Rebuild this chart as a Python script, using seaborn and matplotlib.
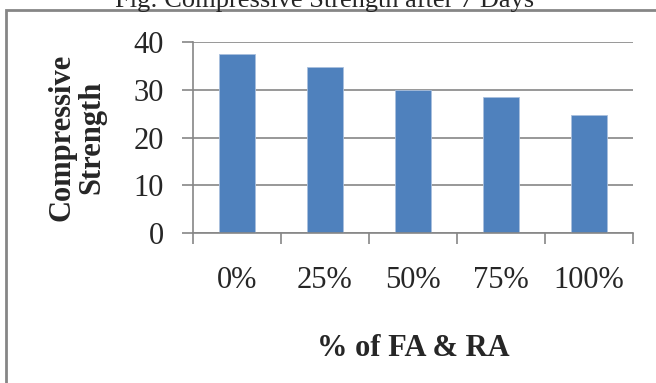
import matplotlib
matplotlib.use("Agg")
import matplotlib.pyplot as plt
from matplotlib.patches import Rectangle
import seaborn as sns
import pandas as pd

# Replacement levels and 7-day compressive strength
categories = ["0%", "25%", "50%", "75%", "100%"]
strength = [37.4, 34.8, 30.0, 28.4, 24.8]
y_ticks = [0, 10, 20, 30, 40]

df = pd.DataFrame({"level": categories, "strength": strength})

sns.set_theme(style="white")
plt.rcParams["font.family"] = ["Liberation Serif", "DejaVu Serif"]

grey = "#868686"
bar_blue = "#4F81BD"

fig = plt.figure(figsize=(6.56, 3.83), dpi=100)
ax = fig.add_axes([193 / 656, 1 - 233 / 383, 440 / 656, 191 / 383])

sns.barplot(data=df, x="level", y="strength", order=categories,
            color=bar_blue, saturation=1, width=0.4,
            edgecolor="#A9C0DE", linewidth=0.6, ax=ax)

ax.set_ylim(0, 40)
ax.set_xlim(-0.5, len(categories) - 0.5)
ax.set_yticks(y_ticks)
ax.set_yticklabels([str(t) for t in y_ticks])
ax.yaxis.grid(True, color=grey, linewidth=1.2)
ax.set_axisbelow(True)

# category boundary ticks on the x axis, labels centred in each slot
ax.set_xticks(range(len(categories)))
ax.set_xticks([i - 0.5 for i in range(len(categories) + 1)], minor=True)
ax.tick_params(axis="x", which="major", length=0, pad=24, labelsize=22)
ax.tick_params(axis="x", which="minor", length=8, width=1.2, color=grey,
               direction="out", bottom=True)
ax.tick_params(axis="y", which="major", length=8, width=1.2, color=grey,
               direction="out", left=True, pad=13, labelsize=22)

for side in ("top", "right"):
    ax.spines[side].set_visible(False)
for side in ("left", "bottom"):
    ax.spines[side].set_color(grey)
    ax.spines[side].set_linewidth(1.2)

ax.set_xlabel("")
ax.set_ylabel("")

fig.text(77 / 656, 1 - 137 / 383, "Compressive\nStrength", rotation=90,
         ha="center", va="center", fontsize=22, fontweight="bold",
         linespacing=1.05)
fig.text(413 / 656, 1 - 348 / 383, "% of FA & RA", ha="center", va="center",
         fontsize=22, fontweight="bold")
fig.text(325 / 656, 1 - 7 / 383, "Fig: Compressive Strength after 7 Days",
         ha="center", va="baseline", fontsize=19)

# chart frame
fig.patches.append(Rectangle((6 / 656, -0.1), 1.2, 1 - 10 / 383 + 0.1,
                             transform=fig.transFigure, fill=False,
                             edgecolor=grey, linewidth=2.0))

fig.savefig("out.png", dpi=100)
